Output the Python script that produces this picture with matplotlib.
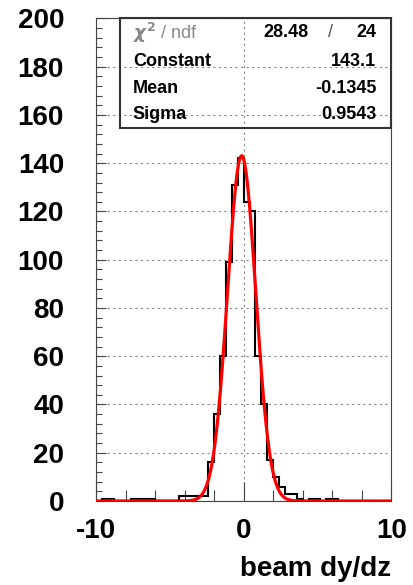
import numpy as np
import matplotlib
matplotlib.use("Agg")
import matplotlib.pyplot as plt
from matplotlib.patches import Rectangle
from matplotlib.ticker import MultipleLocator

plt.rcParams['font.family'] = ['Liberation Sans', 'DejaVu Sans']
plt.rcParams['font.weight'] = 'bold'
plt.rcParams['axes.unicode_minus'] = False

# histogram: 50 bins of width 0.4 from -10 to 10
x_min, x_max, n_bins = -10.0, 10.0, 50
counts = [0, 1, 1, 0, 0, 0, 1, 1, 1, 1,
          0, 0, 0, 0, 2, 2, 2, 2, 2, 16,
          36, 60, 99, 131, 142, 124, 120, 60, 40, 17,
          10, 6, 3, 3, 1, 0, 1, 1, 0, 1,
          1, 0, 0, 0, 0, 0, 0, 0, 0, 0]

# gaussian fit results (from the stats box)
fit_const = 143.1
fit_mean = -0.1345
fit_sigma = 0.9543
chi2, ndf = 28.48, 24

stat_labels = ['Constant', 'Mean', 'Sigma']
stat_values = ['143.1', '-0.1345', '0.9543']

fig = plt.figure(figsize=(4.14, 5.85), dpi=100)
ax = fig.add_axes([0.232, 0.1436, 0.713, 0.8248])

edges = np.linspace(x_min, x_max, n_bins + 1)
ax.stairs(counts, edges, color='black', linewidth=1.5, zorder=3)

xf = np.linspace(x_min, x_max, 800)
yf = fit_const * np.exp(-0.5 * ((xf - fit_mean) / fit_sigma) ** 2)
ax.plot(xf, yf, color='red', linewidth=2.3, zorder=4)

ax.set_xlim(x_min, x_max)
ax.set_ylim(0, 200)

ax.xaxis.set_major_locator(MultipleLocator(10))
ax.xaxis.set_minor_locator(MultipleLocator(2))
ax.yaxis.set_major_locator(MultipleLocator(20))
ax.yaxis.set_minor_locator(MultipleLocator(4))

ax.tick_params(axis='both', which='both', direction='in', color='#444444',
               labelsize=20, width=0.8)
ax.tick_params(axis='x', which='major', length=14, pad=12)
ax.tick_params(axis='x', which='minor', length=8)
ax.tick_params(axis='y', which='major', length=7, pad=23)
ax.tick_params(axis='y', which='minor', length=4)
for lab in ax.get_xticklabels() + ax.get_yticklabels():
    lab.set_fontweight('bold')

ax.grid(True, which='major', color='#888888', linestyle=(0, (2, 3)),
        linewidth=0.8, zorder=1)
ax.set_axisbelow(True)
for sp in ax.spines.values():
    sp.set_color('#444444')
    sp.set_linewidth(0.8)

ax.set_xlabel('beam dy/dz', fontsize=20, fontweight='bold', loc='right',
              labelpad=9)

# stats box
box = Rectangle((0.081, 0.773), 0.919, 0.227, transform=ax.transAxes,
                fill=False, edgecolor='#333333', linewidth=1.5, zorder=5,
                clip_on=False)
ax.add_patch(box)
fs = 13
ax.text(0.125, 0.970, r'$\chi^2$ / ndf', transform=ax.transAxes,
        fontsize=fs, color='#888888', fontweight='normal',
        va='center', ha='left', zorder=6)
ax.text(0.719, 0.970, f'{chi2:.2f}', transform=ax.transAxes, fontsize=fs,
        va='center', ha='right', zorder=6)
ax.text(0.793, 0.970, '/', transform=ax.transAxes, fontsize=fs,
        color='#555555', fontweight='normal', va='center', ha='center', zorder=6)
ax.text(0.949, 0.970, f'{ndf}', transform=ax.transAxes, fontsize=fs,
        va='center', ha='right', zorder=6)
rows_y = [0.911, 0.855, 0.800]
for lbl, val, yy in zip(stat_labels, stat_values, rows_y):
    ax.text(0.125, yy, lbl, transform=ax.transAxes, fontsize=fs,
            va='center', ha='left', zorder=6)
    ax.text(0.949, yy, val, transform=ax.transAxes, fontsize=fs,
            va='center', ha='right', zorder=6)

fig.savefig('out.png', dpi=100)
